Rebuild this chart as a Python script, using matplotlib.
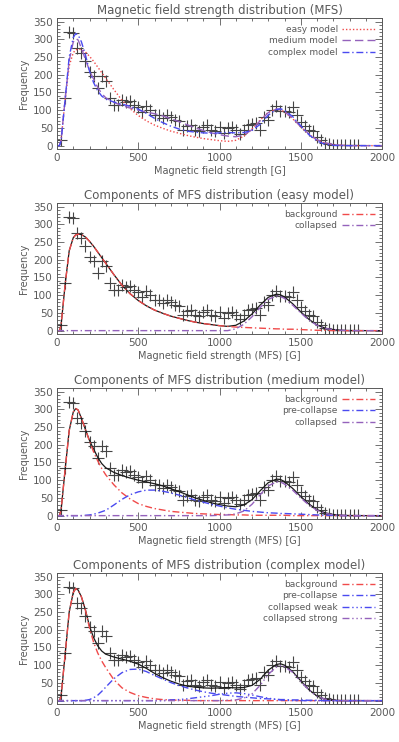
import matplotlib
matplotlib.use("Agg")
import matplotlib.pyplot as plt
from matplotlib.ticker import MultipleLocator

# histogram of magnetic field strength (bin centres in G, counts)
bin_centers = [25, 50, 75, 100, 125, 150, 175, 200, 225, 250, 275, 300, 325, 350, 375,
               400, 425, 450, 475, 500, 525, 550, 575, 600, 625, 650, 675, 700, 725, 750,
               775, 800, 825, 850, 875, 900, 925, 950, 975, 1000, 1025, 1050, 1075, 1100, 1125,
               1150, 1175, 1200, 1225, 1250, 1275, 1300, 1325, 1350, 1375, 1400, 1425, 1450, 1475, 1500,
               1525, 1550, 1575, 1600, 1625, 1650, 1675, 1700, 1725, 1750, 1775, 1800, 1825, 1850]
counts = [15, 133, 320, 318, 275, 262, 240, 208, 195, 163, 197, 182, 133, 115, 115,
          128, 123, 127, 115, 108, 95, 112, 100, 85, 87, 78, 85, 80, 73, 70,
          45, 55, 58, 45, 42, 52, 57, 45, 40, 52, 35, 50, 53, 43, 33,
          45, 57, 60, 63, 45, 80, 72, 100, 113, 97, 97, 95, 108, 85, 68,
          55, 45, 40, 25, 15, 8, 4, 3, 2, 2, 2, 2, 2, 2]

# model curves
curve_x = [0, 15, 25, 50, 75, 100, 115, 130, 150, 175, 200, 225, 250, 275, 300, 350,
           400, 450, 500, 550, 600, 650, 700, 750, 800, 850, 900, 950, 1000, 1050, 1100, 1150,
           1200, 1250, 1300, 1350, 1375, 1400, 1450, 1500, 1550, 1600, 1650, 1700, 1750, 1800, 1900, 2000]

easy_total = [0, 0, 15, 130, 225, 262, 270, 272, 271, 264, 252, 238, 222, 206, 190, 158,
              128, 104, 85, 70, 58, 49, 41, 35, 29, 24, 20, 17, 14, 12, 15, 27,
              47, 72, 94, 103, 101, 95, 76, 53, 32, 16, 7, 3, 1, 0, 0, 0]
easy_background = [0, 0, 15, 130, 225, 262, 270, 272, 271, 264, 252, 238, 222, 206, 190, 158,
                   128, 104, 85, 70, 58, 49, 41, 35, 29, 24, 20, 17, 14, 12, 10, 9,
                   8, 7, 6, 5, 5, 4, 4, 3, 2, 1, 1, 0, 0, 0, 0, 0]
easy_collapsed = [0, 0, 0, 0, 0, 0, 0, 0, 0, 0, 0, 0, 0, 0, 0, 0,
                  0, 0, 0, 0, 0, 0, 0, 0, 0, 0, 0, 0, 0, 0, 5, 18,
                  39, 65, 88, 98, 96, 91, 72, 50, 30, 15, 6, 3, 1, 0, 0, 0]

medium_total = [0, 0, 15, 130, 240, 292, 302, 298, 275, 243, 212, 188, 165, 147, 135, 122,
                113, 106, 100, 95, 90, 84, 76, 68, 59, 50, 43, 36, 31, 27, 25, 30,
                45, 70, 93, 103, 102, 96, 77, 54, 33, 17, 8, 3, 1, 0, 0, 0]
medium_background = [0, 0, 15, 130, 240, 292, 302, 298, 275, 243, 210, 180, 155, 133, 115, 87,
                     64, 47, 34, 26, 20, 16, 12, 10, 8, 6, 5, 4, 3, 3, 2, 2,
                     1, 1, 1, 1, 1, 1, 0, 0, 0, 0, 0, 0, 0, 0, 0, 0]
medium_precollapse = [0, 0, 0, 0, 0, 0, 0, 0, 0, 1, 2, 4, 7, 11, 15, 30,
                      46, 59, 67, 72, 72, 69, 64, 58, 51, 44, 38, 32, 27, 22, 18, 15,
                      12, 10, 8, 7, 6, 6, 5, 4, 3, 2, 1, 1, 0, 0, 0, 0]
medium_collapsed = [0, 0, 0, 0, 0, 0, 0, 0, 0, 0, 0, 0, 0, 0, 0, 0,
                    0, 0, 0, 0, 0, 0, 0, 0, 0, 0, 0, 0, 1, 2, 5, 13,
                    32, 59, 84, 95, 95, 89, 72, 50, 30, 15, 7, 2, 1, 0, 0, 0]

complex_total = [0, 0, 12, 130, 250, 305, 316, 312, 293, 256, 210, 178, 155, 140, 131, 123,
                 117, 111, 103, 91, 77, 65, 55, 47, 41, 38, 36, 35, 36, 37, 36, 37,
                 43, 60, 86, 102, 104, 100, 82, 56, 31, 13, 4, 1, 0, 0, 0, 0]
complex_background = [0, 0, 12, 130, 250, 305, 316, 312, 293, 255, 205, 165, 135, 112, 93, 59,
                      36, 23, 14, 9, 5, 3, 2, 1, 1, 0, 0, 0, 0, 0, 0, 0,
                      0, 0, 0, 0, 0, 0, 0, 0, 0, 0, 0, 0, 0, 0, 0, 0]
complex_precollapse = [0, 0, 0, 0, 0, 0, 0, 0, 0, 1, 3, 8, 15, 26, 38, 62,
                       79, 88, 89, 82, 71, 61, 51, 43, 36, 30, 25, 21, 18, 15, 12, 10,
                       8, 6, 5, 4, 3, 3, 2, 2, 1, 1, 0, 0, 0, 0, 0, 0]
complex_weak = [0, 0, 0, 0, 0, 0, 0, 0, 0, 0, 0, 0, 0, 0, 0, 0,
                0, 0, 0, 0, 0, 0, 2, 3, 5, 8, 11, 14, 18, 21, 22, 20,
                16, 11, 7, 3, 2, 1, 0, 0, 0, 0, 0, 0, 0, 0, 0, 0]
complex_strong = [0, 0, 0, 0, 0, 0, 0, 0, 0, 0, 0, 0, 0, 0, 0, 0,
                  0, 0, 0, 0, 0, 0, 0, 0, 0, 0, 0, 0, 0, 1, 2, 7,
                  19, 43, 74, 95, 99, 96, 80, 54, 30, 12, 4, 1, 0, 0, 0, 0]

RED = "#f04a4a"
PURPLE = "#9462bc"
BLUE = "#4a4af0"
TEXT = "#5a5a5a"

DASHDOT = (0, (5, 2, 1, 2))
DASH3DOT = (0, (5, 2, 1, 2, 1, 2, 1, 2))

plt.rcParams["font.family"] = ["DejaVu Sans"]

W, H = 399, 742
fig = plt.figure(figsize=(W / 100, H / 100), dpi=100)


def make_axes(top_px, title, xlabel):
    left, right, height = 57, 382, 131
    ax = fig.add_axes([left / W, (H - top_px - height) / H, (right - left) / W, height / H])
    ax.set_xlim(0, 2000)
    ax.set_ylim(-9.5, 360)
    ax.xaxis.set_major_locator(MultipleLocator(500))
    ax.xaxis.set_minor_locator(MultipleLocator(100))
    ax.yaxis.set_major_locator(MultipleLocator(50))
    ax.yaxis.set_minor_locator(MultipleLocator(10))
    ax.tick_params(which="both", direction="in", top=True, right=True,
                   colors=TEXT, labelsize=7.5, width=0.6)
    ax.tick_params(which="major", length=5, pad=3)
    ax.tick_params(which="minor", length=2.5)
    for sp in ax.spines.values():
        sp.set_color(TEXT)
        sp.set_linewidth(0.7)
    ax.set_title(title, fontsize=8.5, color=TEXT, pad=3)
    ax.set_xlabel(xlabel, fontsize=7, color=TEXT, labelpad=2)
    ax.set_ylabel("Frequency", fontsize=7, color=TEXT, labelpad=3)
    ax.plot(bin_centers, counts, ls="none", marker="+", ms=8, mew=0.8, color="#454545")
    return ax


def add_legend(ax):
    ax.legend(loc="upper right", frameon=False, markerfirst=False, fontsize=6.5,
              labelcolor=TEXT, handlelength=3.6, handletextpad=0.5,
              labelspacing=0.25, borderaxespad=0.4)


# panel 1: model comparison
ax1 = make_axes(18, "Magnetic field strength distribution (MFS)", "Magnetic field strength [G]")
ax1.plot(curve_x, easy_total, color=RED, lw=1.0, ls=(0, (1, 1.5)), label="easy model")
ax1.plot(curve_x, medium_total, color=PURPLE, lw=1.0, ls=(0, (6, 3)), label="medium model")
ax1.plot(curve_x, complex_total, color=BLUE, lw=1.0, ls=DASHDOT, label="complex model")
add_legend(ax1)

xl = "Magnetic field strength (MFS) [G]"

# panel 2: easy model components
ax2 = make_axes(203, "Components of MFS distribution (easy model)", xl)
ax2.plot(curve_x, easy_total, color="#1a1a1a", lw=0.9)
ax2.plot(curve_x, easy_background, color=RED, lw=1.0, ls=DASHDOT, label="background")
ax2.plot(curve_x, easy_collapsed, color=PURPLE, lw=1.0, ls=DASHDOT, label="collapsed")
add_legend(ax2)

# panel 3: medium model components
ax3 = make_axes(388, "Components of MFS distribution (medium model)", xl)
ax3.plot(curve_x, medium_total, color="#1a1a1a", lw=0.9)
ax3.plot(curve_x, medium_background, color=RED, lw=1.0, ls=DASHDOT, label="background")
ax3.plot(curve_x, medium_precollapse, color=BLUE, lw=1.0, ls=DASHDOT, label="pre-collapse")
ax3.plot(curve_x, medium_collapsed, color=PURPLE, lw=1.0, ls=DASHDOT, label="collapsed")
add_legend(ax3)

# panel 4: complex model components
ax4 = make_axes(573, "Components of MFS distribution (complex model)", xl)
ax4.plot(curve_x, complex_total, color="#1a1a1a", lw=0.9)
ax4.plot(curve_x, complex_background, color=RED, lw=1.0, ls=DASHDOT, label="background")
ax4.plot(curve_x, complex_precollapse, color=BLUE, lw=1.0, ls=DASHDOT, label="pre-collapse")
ax4.plot(curve_x, complex_weak, color=BLUE, lw=1.0, ls=DASH3DOT, label="collapsed weak")
ax4.plot(curve_x, complex_strong, color=PURPLE, lw=1.0, ls=DASH3DOT, label="collapsed strong")
add_legend(ax4)

fig.savefig("out.png", dpi=100)
